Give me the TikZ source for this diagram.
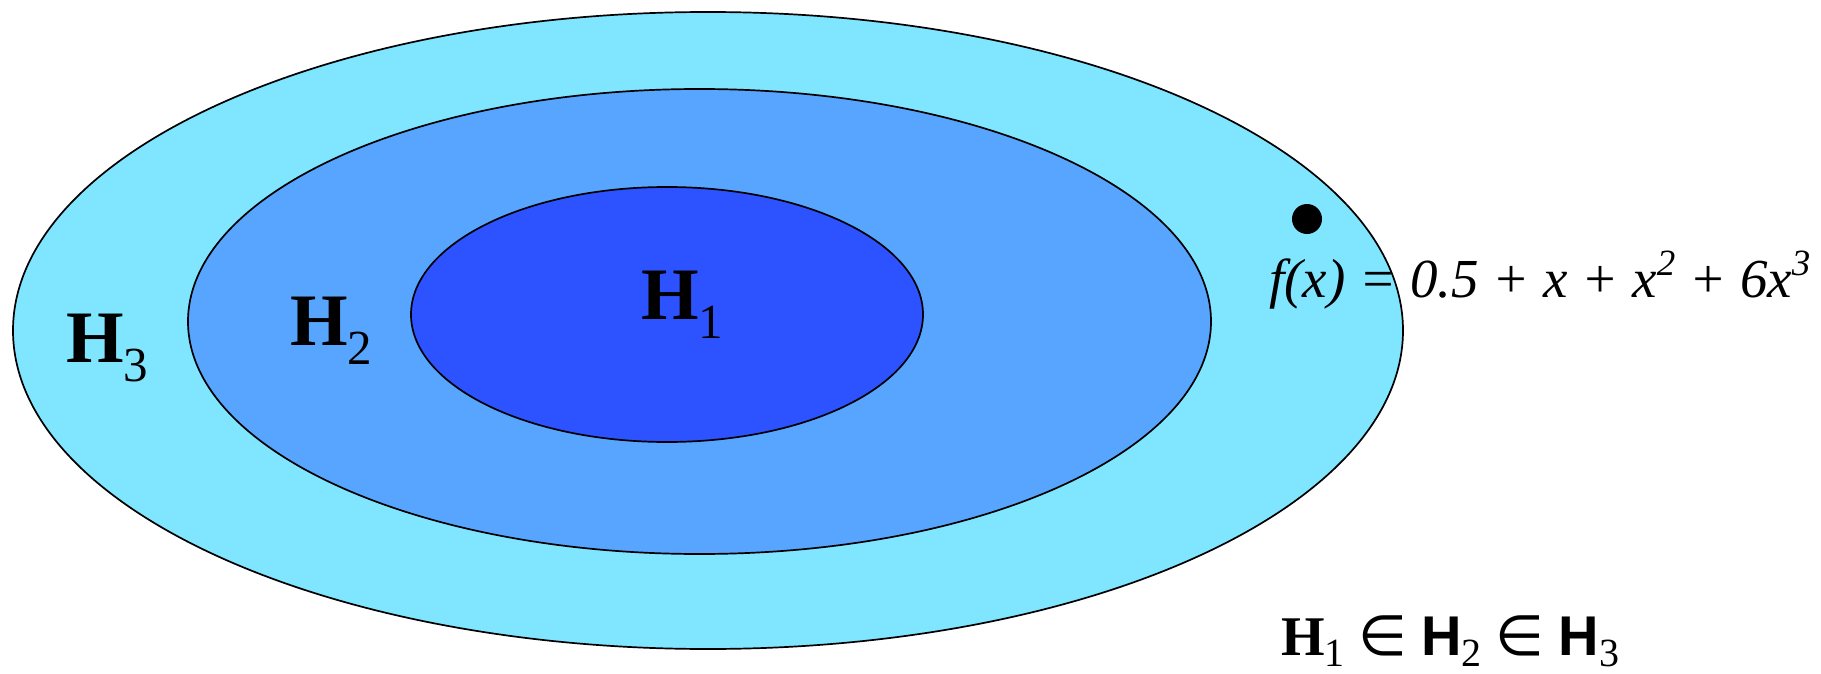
\documentclass[tikz,border=0pt]{standalone}
\usepackage{fontspec}
\setmainfont{Liberation Serif}
\newfontfamily\arialf{Liberation Sans}
\newfontfamily\djv{DejaVu Sans}
\definecolor{cthree}{RGB}{128,229,255}
\definecolor{ctwo}{RGB}{87,165,255}
\definecolor{cone}{RGB}{44,83,255}
\newcommand{\HB}[3]{{\bfseries H}\lower#3em\hbox{\fontsize{#2}{#2}\selectfont #1}}
\newcommand{\HS}[3]{{\arialf\bfseries H}\lower#3em\hbox{\fontsize{#2}{#2}\selectfont #1}}
\begin{document}
\begin{tikzpicture}[x=1pt,y=-1pt,
  lab/.style={inner sep=0pt, anchor=base west, font=\fontsize{74}{74}\selectfont},
  ring/.style={draw=black, line width=1.7pt}]
\useasboundingbox (0,0) rectangle (1821,674);
\fill[white] (0,0) rectangle (1821,674);
\draw[ring, fill=cthree] (708,330.5) ellipse [x radius=695pt, y radius=318.5pt];
\draw[ring, fill=ctwo] (699.5,321.5) ellipse [x radius=511.5pt, y radius=232.5pt];
\draw[ring, fill=cone] (667,314.5) ellipse [x radius=256pt, y radius=127.5pt];
\node[lab] (h1) at (641,319) {\HB{1}{49}{0.26}};
\node[lab] (h2) at (290,345) {\HB{2}{49}{0.26}};
\node[lab] (h3) at (66,362) {\HB{3}{49}{0.26}};
\node[circle, fill=black, inner sep=0pt, minimum size=30pt] (dot) at (1307,219) {};
\node[inner sep=0pt, anchor=base west, font=\fontsize{55}{55}\selectfont\itshape] (fx) at (1269,297)
  {f(x) = 0.5 + x + x\raise0.4em\hbox{\fontsize{37}{37}\selectfont 2} + 6x\raise0.4em\hbox{\fontsize{37}{37}\selectfont 3}};
\node[inner sep=0pt, anchor=base west, font=\fontsize{56}{56}\selectfont] (rel) at (1281,655)
  {\HB{1}{40}{0.2} {\djv ∈} \HS{2}{40}{0.2} {\djv ∈} \HS{3}{40}{0.2}};
\end{tikzpicture}
\end{document}
